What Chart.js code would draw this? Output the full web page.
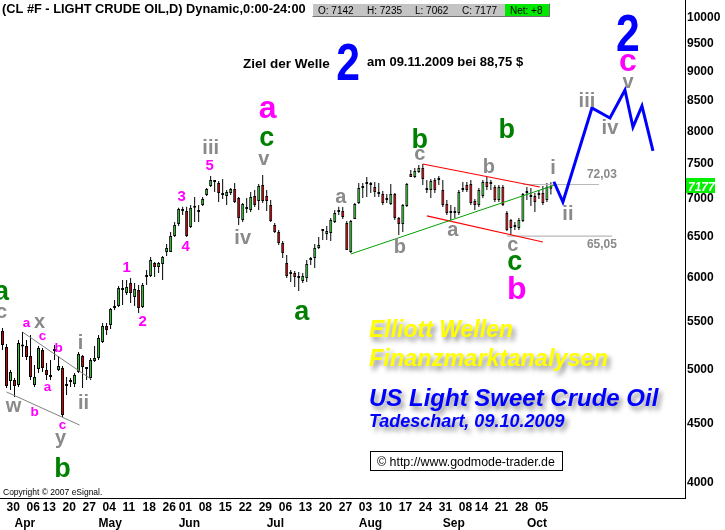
<!DOCTYPE html>
<html><head><meta charset="utf-8">
<script src="https://cdn.jsdelivr.net/npm/chart.js@4.4.0/dist/chart.umd.min.js"></script>
<style>html,body{margin:0;padding:0;background:#fff;}#wrap{width:725px;height:530px;}</style>
</head><body><div id="wrap"><canvas id="c" width="725" height="530"></canvas></div>
<script>
// ---- categories (trading days) ----
const dates = ['03-27','03-30','03-31','04-01','04-02','04-03','04-06','04-07','04-08','04-09','04-13','04-14','04-15','04-16','04-17','04-20','04-21','04-22','04-23','04-24','04-27','04-28','04-29','04-30','05-01','05-04','05-05','05-06','05-07','05-08','05-11','05-12','05-13','05-14','05-15','05-18','05-19','05-20','05-21','05-22','05-26','05-27','05-28','05-29','06-01','06-02','06-03','06-04','06-05','06-08','06-09','06-10','06-11','06-12','06-15','06-16','06-17','06-18','06-19','06-22','06-23','06-24','06-25','06-26','06-29','06-30','07-01','07-02','07-03','07-06','07-07','07-08','07-09','07-10','07-13','07-14','07-15','07-16','07-17','07-20','07-21','07-22','07-23','07-24','07-27','07-28','07-29','07-30','07-31','08-03','08-04','08-05','08-06','08-07','08-10','08-11','08-12','08-13','08-14','08-17','08-18','08-19','08-20','08-21','08-24','08-25','08-26','08-27','08-28','08-31','09-01','09-02','09-03','09-04','09-08','09-09','09-10','09-11','09-14','09-15','09-16','09-17','09-18','09-21','09-22','09-23','09-24','09-25','09-28','09-29','09-30','10-01','10-02','10-05','10-06','10-07','10-08','10-09'];
const futureDates = ['10-12','10-13','10-14','10-15','10-16','10-19','10-20','10-21','10-22','10-23','10-26','10-27','10-28','10-29','10-30','11-02','11-03','11-04','11-05','11-06','11-09','11-10','11-11','11-12','11-13','11-16','11-17','11-18','11-19','11-20','11-23','11-24','11-25'];

// ---- series values (price x100) ----
const open = [5400,5230,4890,4900,4852,5235,5240,5138,4852,5007,
 5199,4998,4929,5189,4998,5017,4843,4880,4862,4978,
 5138,5007,4920,5087,5118,5281,5451,5461,5647,5670,
 5862,5816,5933,5771,5851,5659,6003,6015,6171,6123,
 6159,6306,6306,6508,6665,6851,6837,6624,6879,6837,
 6918,7056,7182,7253,7225,7056,7042,7084,7140,7014,
 6717,6865,6851,7042,6974,7196,7042,6918,6651,6560,
 6420,6171,6039,6050,5992,5956,5992,6207,6232,6357,
 6573,6534,6547,6691,6823,6837,6678,6306,6730,6946,
 7154,7211,7211,7168,7070,7070,6987,6932,7070,6743,
 6664,6905,7353,7311,7383,7441,7126,7126,7267,7281,
 7126,6932,6810,6810,6810,7126,7196,7211,6974,6918,
 7042,7239,7225,7168,6987,7168,6810,6717,6624,6611,
 6704,7084,7042,7042,7056,7084,6987,7142];
const high = [5430,5260,4998,4920,5302,5387,5302,5355,5047,5240,
 5220,5067,5097,5250,5138,5037,4929,4920,4968,5179,
 5148,5027,5118,5240,5355,5483,5483,5647,5737,5897,
 5968,5968,5992,5933,5909,5933,6086,6245,6183,6183,
 6257,6407,6560,6691,6879,6893,6893,6918,7028,6918,
 7028,7154,7326,7267,7253,7281,7126,7154,7225,7028,
 6946,7014,7098,7126,7211,7339,7126,6987,6678,6586,
 6445,6269,6086,6074,6062,6050,6207,6245,6407,6495,
 6586,6638,6743,6851,6893,6891,6704,6717,6946,7225,
 7225,7311,7239,7239,7225,7112,7070,7211,7084,6757,
 6932,7225,7412,7441,7485,7500,7267,7281,7296,7326,
 7267,6987,6918,6891,7126,7239,7239,7267,7001,7154,
 7267,7311,7267,7196,7196,7196,6837,6730,6691,6743,
 7084,7168,7154,7084,7126,7182,7225,7235];
const low = [5199,4824,4805,4739,4833,5128,5097,4900,4833,4968,
 4978,4900,4900,5097,4988,4556,4758,4833,4833,4968,
 4824,4900,4900,5077,5097,5271,5355,5419,5625,5659,
 5681,5794,5704,5670,5592,5647,5909,6003,6003,6050,
 5968,6257,6306,6495,6638,6783,6495,6611,6691,6691,
 6905,7042,7168,7098,6960,7001,6918,7056,6946,6651,
 6691,6810,6823,6891,6851,6946,6837,6691,6547,6394,
 6232,5992,5945,5885,5840,5933,5945,6147,6110,6344,
 6457,6457,6445,6678,6783,6730,6331,6294,6730,6932,
 7014,7028,7084,7028,7028,6918,6946,6918,6717,6521,
 6560,6891,7311,7296,7368,7196,7084,7014,7084,7196,
 6891,6783,6717,6743,6783,7098,7098,6918,6851,6891,
 7014,7126,7126,6960,6960,6905,6573,6521,6586,6586,
 6691,6987,6905,6823,7001,6918,6960,7062];
const close = [5250,4843,4978,4843,5271,5240,5128,4929,4929,5220,
 5017,4949,4939,5199,5037,4574,4852,4890,4949,5158,
 5027,5017,5097,5118,5323,5451,5408,5636,5670,5874,
 5851,5885,5816,5862,5647,5909,6027,6207,6123,6171,
 6245,6357,6508,6651,6865,6837,6508,6879,6879,6823,
 7000,7140,7267,7239,7084,7056,7098,7140,6960,6743,
 6932,6865,7028,6918,7182,6974,6974,6704,6560,6420,
 6294,6015,6050,6003,5992,6015,6159,6220,6357,6394,
 6586,6573,6717,6810,6837,6757,6331,6704,6932,7154,
 7154,7211,7197,7098,7070,6946,7001,7070,6743,6664,
 6918,7211,7311,7397,7441,7282,7140,7253,7126,7267,
 6918,6810,6823,6823,7098,7140,7126,6946,6918,7126,
 7239,7168,7211,6987,7168,6918,6586,6611,6638,6717,
 7070,7084,7028,6960,7070,6946,7169,7177];

// projected path (index, value)
const projIdx = [137.75, 140, 147.25, 151.75, 155.5, 157.5, 159.75, 162.5];
const projVal = [7242, 6959, 8375, 8212, 8677, 8067, 8408, 7695];

// trend lines [idx, value]
const channelUpper = [[5.08, 5383], [22.18, 4907]];
const channelLower = [[1, 4786], [19.25, 4484]];
const greenTrend = [[87, 6281], [138, 7196]];
const redUpper = [[105, 7500], [134.25, 7168]];
const redLower = [[106, 6770], [135, 6431]];
const level7203 = [[130, 7203], [149, 7203]];
const level6505 = [[126, 6505], [152.25, 6505]];

// tick labels
const yTickValues = [4000,4500,5000,5500,6000,6500,7000,7500,8000,8500,9000,9500,10000];
const dayTickIdx = [1,6,10,15,20,25,30,35,40,44,49,54,59,64,69,74,79,84,89,94,99,104,109,114,118,123,128,133];
const dayTickText = ['30','06','13','20','27','04','11','18','26','01','08','15','22','29','06','13','20','27','03','10','17','24','31','08','14','21','28','05'];
const monthTickIdx = [3,24,44,66,89,110,131];
const monthTickText = ['Apr','May','Jun','Jul','Aug','Sep','Oct'];

// wave count labels: [text, idx, value, colour, size]
const waveLabels = [
 ['a',-0.25,5817,'G',27],['c',-0.25,5592,'S',20],['a',6,5472,'M',13.5],['x',9.25,5483,'S',20],
 ['c',10,5334,'M',13.5],['b',14,5229,'M',13.5],['i',19.5,5281,'S',20],['a',11.25,4824,'M',13.5],
 ['w',2.75,4647,'S',20],['b',8,4610,'M',13.5],['ii',20.25,4692,'S',20],['c',15,4484,'M',13.5],
 ['y',14.5,4345,'S',20],['b',15,4128,'G',27],
 ['2',35,5504,'M',15],['1',31,6122,'M',15],['3',44.75,7042,'M',15],['4',45.75,6381,'M',15],['5',51.75,7485,'M',15],
 ['iii',52,7756,'S',20],['iv',60,6495,'S',20],['v',65.25,7559,'S',20],['c',66,7879,'G',27],['a',66.25,8342,'M',32],
 ['a',74.75,5592,'G',27],['a',84.5,7015,'S',20],['b',99.25,6381,'S',20],['c',104.25,7634,'S',20],['b',104.25,7894,'G',27],
 ['b',121.5,7471,'S',20],['a',112.5,6573,'S',20],['c',127.5,6381,'S',20],['c',128,6172,'G',27],['b',128.5,5885,'M',32],
 ['b',126,8051,'G',27],['i',137.5,7456,'S',20],['ii',141.25,6810,'S',20],
 ['iii',146,8508,'S',20],['iv',151.75,8067,'S',20],['v',156.25,8798,'S',20],['c',156.25,9151,'M',32],
 ['72,03',149.75,7354,'S',12],['65,05',149.75,6407,'S',12]
];
const bigTwo = [156.25, 9728];

const FONT = '"Liberation Sans", Arial, Helvetica, sans-serif';
const COL = {G:'#008000', S:'#8a8a8a', M:'#ff00ff', B:'#0000ff'};
const GREEN = '#33cc33', RED = '#d00000';

Chart.defaults.font.family = FONT;
const labels = dates.concat(futureDates);
const wickData = low.map((l, i) => [l, high[i]]);
const bodyData = open.map((o, i) => [o, close[i]]);
const bodyColors = open.map((o, i) => close[i] >= o ? GREEN : RED);
const pts = arr => arr.map(p => ({x: p[0], y: p[1]}));
// line overlays use the category axis in its internal (index) units, so fractional positions are kept
const lineDs = (arr, color, w, order) => ({type:'line', data: pts(arr), xAxisID:'x', yAxisID:'y', parsing:false,
  borderColor: color, borderWidth: w, pointRadius: 0, tension: 0, fill: false, order: order});

function yOff(t) {
  if (/^[acemnorsuvwxz]+$/.test(t)) return 0.26;
  if (/^[gjpqy]+$/.test(t)) return 0.155;
  return 0.36;
}

const overlay = {
  id: 'overlay',
  afterDraw(chart) {
    const ctx = chart.ctx, xs = chart.scales.x, ys = chart.scales.y;
    ctx.save();
    ctx.textAlign = 'center';
    ctx.textBaseline = 'alphabetic';
    for (const [t, xi, v, c, s] of waveLabels) {
      ctx.font = 'bold ' + s + 'px ' + FONT;
      ctx.fillStyle = COL[c];
      ctx.fillText(t, xs.getPixelForValue(xi), ys.getPixelForValue(v) + yOff(t) * s);
    }
    const drawTwo = (px, pyBase) => {
      ctx.save(); ctx.translate(px, pyBase); ctx.scale(0.82, 1);
      ctx.font = 'bold 52px ' + FONT; ctx.fillStyle = COL.B; ctx.textAlign = 'center';
      ctx.fillText('2', 0, 0); ctx.restore();
    };
    drawTwo(xs.getPixelForValue(bigTwo[0]), ys.getPixelForValue(bigTwo[1]) + 0.36 * 52);

    // header
    ctx.textAlign = 'left';
    ctx.fillStyle = '#000';
    ctx.font = 'bold 12.8px ' + FONT;
    ctx.fillText('(CL #F - LIGHT CRUDE OIL,D) Dynamic,0:00-24:00', 2, 13);
    ctx.fillStyle = '#c4c4c4'; ctx.fillRect(312, 3, 238, 14);
    ctx.fillStyle = '#00e800'; ctx.fillRect(505, 4, 45, 13);
    ctx.strokeStyle = '#ffffff'; ctx.lineWidth = 1;
    ctx.beginPath(); ctx.moveTo(312.5, 17); ctx.lineTo(312.5, 3.5); ctx.lineTo(550, 3.5); ctx.stroke();
    ctx.strokeStyle = '#707070';
    ctx.beginPath(); ctx.moveTo(312.5, 16.5); ctx.lineTo(549.5, 16.5); ctx.lineTo(549.5, 3.5); ctx.stroke();
    const L = open.length - 1;
    ctx.fillStyle = '#000'; ctx.font = '10px ' + FONT;
    ctx.fillText('O: ' + open[L], 318, 14);
    ctx.fillText('H: ' + high[L], 367, 14);
    ctx.fillText('L: ' + low[L], 415, 14);
    ctx.fillText('C: ' + close[L], 462, 14);
    const net = close[L] - close[L - 1];
    ctx.fillText('Net: ' + (net >= 0 ? '+' : '') + net, 510, 14);

    ctx.font = 'bold 13.5px ' + FONT; ctx.fillStyle = '#000';
    ctx.fillText('Ziel der Welle', 243, 68);
    drawTwo(348, 80);
    ctx.textAlign = 'left'; ctx.fillStyle = '#000';
    ctx.font = 'bold 13px ' + FONT;
    ctx.fillText('am 09.11.2009 bei 88,75 $', 367, 66);

    ctx.save();
    ctx.shadowColor = 'rgba(0,0,0,0.45)'; ctx.shadowBlur = 5; ctx.shadowOffsetX = 3; ctx.shadowOffsetY = 4;
    ctx.fillStyle = '#ffff00';
    ctx.font = 'italic bold 23px ' + FONT; ctx.fillText('Elliott Wellen', 369, 337);
    ctx.font = 'italic bold 23.5px ' + FONT; ctx.fillText('Finanzmarktanalysen', 369, 366);
    ctx.fillStyle = '#0000ff';
    ctx.font = 'italic bold 24px ' + FONT; ctx.fillText('US Light Sweet Crude Oil', 369, 406);
    ctx.font = 'italic bold 18px ' + FONT; ctx.fillText('Tadeschart, 09.10.2009', 369, 427);
    ctx.restore();

    ctx.fillStyle = '#fff'; ctx.fillRect(370.5, 451.5, 192, 19);
    ctx.strokeStyle = '#000'; ctx.lineWidth = 1; ctx.strokeRect(370.5, 451.5, 192, 19);
    ctx.fillStyle = '#000'; ctx.font = '12.4px ' + FONT;
    ctx.fillText('\u00A9 http://www.godmode-trader.de', 377, 465.5);
    ctx.font = '8.5px ' + FONT;
    ctx.fillText('Copyright \u00A9 2007 eSignal.', 3, 495);

    const py = ys.getPixelForValue(close[L]);
    ctx.fillStyle = '#00f000'; ctx.fillRect(686, Math.round(py) - 8, 29, 15);
    ctx.fillStyle = '#fff'; ctx.font = 'italic bold 12px ' + FONT;
    ctx.fillText(String(close[L]), 688, Math.round(py) + 4.5);
    ctx.restore();
  }
};

const noPad = s => { s.paddingTop = 0; s.paddingBottom = 0; s.paddingLeft = 0; s.paddingRight = 0; };

new Chart(document.getElementById('c'), {
  type: 'bar',
  data: {
    labels: labels,
    datasets: [
      {type:'bar', data: wickData, xAxisID:'x', yAxisID:'y', backgroundColor:'#000', borderWidth:0,
       barThickness:1, grouped:false, inflateAmount:0, order:5},
      {type:'bar', data: bodyData, xAxisID:'x', yAxisID:'y', backgroundColor: bodyColors, borderColor:'#000',
       borderWidth:1, borderSkipped:false, barThickness:3, grouped:false, inflateAmount:0, minBarLength:2, order:4},
      lineDs(channelUpper, '#808080', 1, 3),
      lineDs(channelLower, '#808080', 1, 3),
      lineDs(greenTrend, '#00a000', 1, 2),
      lineDs(redUpper, '#ff0000', 1.2, 2),
      lineDs(redLower, '#ff0000', 1.2, 2),
      lineDs(level7203, '#b8b8b8', 1.2, 3),
      lineDs(level6505, '#b8b8b8', 1.2, 3),
      {type:'line', data: projIdx.map((x, i) => ({x: x, y: projVal[i]})), xAxisID:'x', yAxisID:'y', parsing:false,
       borderColor:'#0000ff', borderWidth:3, pointRadius:0, tension:0, fill:false, order:1, borderJoinStyle:'miter'}
    ]
  },
  options: {
    responsive: false, animation: false, devicePixelRatio: 1,
    layout: {padding: {left: 0.5, right: 0, top: 0, bottom: 0}},
    plugins: {legend: {display: false}, tooltip: {enabled: false}},
    scales: {
      x: {type:'category', offset:true, position:'bottom', weight:0,
          grid:{display:false, drawTicks:false}, border:{display:true, color:'#000', width:1},
          ticks:{autoSkip:false, maxRotation:0, minRotation:0, align:'start', padding:2, color:'#000',
                 font:{weight:'bold', size:12},
                 callback:(v, i) => { const k = dayTickIdx.indexOf(i); return k >= 0 ? dayTickText[k] : ''; }},
          afterFit: s => { s.height = 16; noPad(s); }},
      x2: {type:'category', offset:true, position:'bottom', weight:1,
          grid:{display:false, drawTicks:false}, border:{display:false},
          ticks:{autoSkip:false, maxRotation:0, minRotation:0, align:'start', padding:2, color:'#000',
                 font:{weight:'bold', size:12},
                 callback:(v, i) => { const k = monthTickIdx.indexOf(i); return k >= 0 ? monthTickText[k] : ''; }},
          afterFit: s => { s.height = 16; noPad(s); }},
      y: {type:'logarithmic', position:'right', min:3883.5, max:10361, bounds:'data',
          grid:{display:false, drawTicks:false}, border:{display:true, color:'#000', width:1},
          afterBuildTicks: s => { s.ticks = yTickValues.map(v => ({value: v})); },
          ticks:{autoSkip:false, padding:2, color:'#000', font:{weight:'bold', size:12},
                 callback: v => String(v)},
          afterFit: s => { s.width = 40; noPad(s); }}
    }
  },
  plugins: [overlay]
});
</script>
</body></html>
